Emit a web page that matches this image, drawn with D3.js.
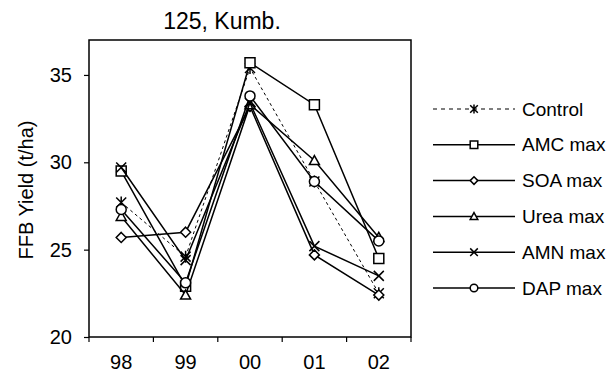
<!DOCTYPE html>
<html>
<head>
<meta charset="utf-8">
<script src="https://cdn.jsdelivr.net/npm/d3@7"></script>
<style>
  body { margin: 0; background: #fff; }
  svg text { font-family: Arial, "Liberation Sans", sans-serif; fill: #000; }
</style>
</head>
<body>
<div id="chart"></div>
<script>
const years = ['98', '99', '00', '01', '02'];
const yTicks = [20, 25, 30, 35];
const seriesNames = ['Control', 'AMC max', 'SOA max', 'Urea max', 'AMN max', 'DAP max'];
const control = [27.7, 24.6, 35.4, 28.9, 22.5];
const amcMax = [29.5, 22.9, 35.7, 33.3, 24.5];
const soaMax = [25.7, 26.0, 33.2, 24.7, 22.4];
const ureaMax = [26.9, 22.4, 33.3, 30.1, 25.7];
const amnMax = [29.7, 24.4, 33.4, 25.2, 23.5];
const dapMax = [27.3, 23.1, 33.8, 28.9, 25.5];

const series = [
    { name: seriesNames[0], values: control, marker: 'star', dashed: true },
    { name: seriesNames[1], values: amcMax, marker: 'square' },
    { name: seriesNames[2], values: soaMax, marker: 'diamond' },
    { name: seriesNames[3], values: ureaMax, marker: 'triangle' },
    { name: seriesNames[4], values: amnMax, marker: 'cross' },
    { name: seriesNames[5], values: dapMax, marker: 'circle' },
];

const W = 616, H = 383;
const plot = { left: 89, right: 411, top: 40, bottom: 337 };

const svg = d3.select('#chart').append('svg')
    .attr('width', W).attr('height', H);

const x = d3.scaleBand().domain(years).range([plot.left, plot.right]);
const y = d3.scaleLinear().domain([20, 37]).range([plot.bottom, plot.top]);

// marker path, r = half size
function markerPath(type, r) {
    switch (type) {
        case 'square':
            return `M${-r},${-r}H${r}V${r}H${-r}Z`;
        case 'diamond':
            return `M0,${-r}L${r},0L0,${r}L${-r},0Z`;
        case 'triangle':
            return `M0,${-r}L${r},${r * 0.8}L${-r},${r * 0.8}Z`;
        case 'circle':
            return `M${r},0A${r},${r} 0 1,1 ${-r},0A${r},${r} 0 1,1 ${r},0Z`;
        case 'cross':
            return `M${-r},${-r}L${r},${r}M${-r},${r}L${r},${-r}`;
        case 'star':
            return `M${-r},${-r}L${r},${r}M${-r},${r}L${r},${-r}M0,${-r * 1.2}V${r * 1.2}`;
    }
}
const filled = (t) => t !== 'cross' && t !== 'star';

// frame
svg.append('rect')
    .attr('x', plot.left).attr('y', plot.top)
    .attr('width', plot.right - plot.left).attr('height', plot.bottom - plot.top)
    .attr('fill', 'none').attr('stroke', '#000').attr('stroke-width', 1.5);

// y axis
const yAxis = svg.append('g')
    .attr('transform', `translate(${plot.left},0)`)
    .call(d3.axisLeft(y).tickValues(yTicks).tickSize(5).tickSizeOuter(0).tickPadding(12));
yAxis.select('.domain').remove();
yAxis.selectAll('line').attr('stroke', '#000').attr('stroke-width', 1.2);
yAxis.selectAll('text').style('font-size', '20px');

// x axis: ticks on category boundaries, labels in the middle
const xAxis = svg.append('g')
    .attr('transform', `translate(0,${plot.bottom})`)
    .call(d3.axisBottom(x).tickSize(0).tickPadding(18));
xAxis.select('.domain').remove();
xAxis.selectAll('text').style('font-size', '20px');
const bounds = years.map((d) => x(d)).concat([x.range()[1]]);
xAxis.selectAll('.bound').data(bounds).enter().append('line')
    .attr('x1', (d) => d).attr('x2', (d) => d)
    .attr('y1', 0).attr('y2', 5)
    .attr('stroke', '#000').attr('stroke-width', 1.2);

// title + axis label
svg.append('text')
    .attr('x', 222).attr('y', 29)
    .attr('text-anchor', 'middle')
    .style('font-size', '23px')
    .text('125, Kumb.');

svg.append('text')
    .attr('transform', `translate(33,190) rotate(-90)`)
    .attr('text-anchor', 'middle')
    .style('font-size', '20px')
    .text('FFB Yield (t/ha)');

// series
const line = d3.line()
    .x((d, i) => x(years[i]) + x.bandwidth() / 2)
    .y((d) => y(d));

series.forEach((s) => {
    svg.append('path')
        .datum(s.values)
        .attr('d', line)
        .attr('fill', 'none')
        .attr('stroke', '#000')
        .attr('stroke-width', s.dashed ? 1 : 1.5)
        .attr('stroke-dasharray', s.dashed ? '3,3' : null);

    svg.selectAll(null)
        .data(s.values)
        .enter()
        .append('path')
        .attr('transform', (d, i) => `translate(${x(years[i]) + x.bandwidth() / 2},${y(d)})`)
        .attr('d', markerPath(s.marker, 5))
        .attr('fill', filled(s.marker) ? '#fff' : 'none')
        .attr('stroke', '#000')
        .attr('stroke-width', 1.5);
});

// legend
const legend = svg.append('g');
series.forEach((s, i) => {
    const ly = 109 + i * 35.8;
    legend.append('line')
        .attr('x1', 433).attr('x2', 515)
        .attr('y1', ly).attr('y2', ly)
        .attr('stroke', '#000')
        .attr('stroke-width', s.dashed ? 1.2 : 1.5)
        .attr('stroke-dasharray', s.dashed ? '4,4' : null);
    legend.append('path')
        .attr('transform', `translate(474,${ly})`)
        .attr('d', markerPath(s.marker, 3.8))
        .attr('fill', filled(s.marker) ? '#fff' : 'none')
        .attr('stroke', '#000')
        .attr('stroke-width', 1.5);
    legend.append('text')
        .attr('x', 522).attr('y', ly)
        .attr('dy', '0.35em')
        .style('font-size', '19px')
        .text(s.name);
});
</script>
</body>
</html>
